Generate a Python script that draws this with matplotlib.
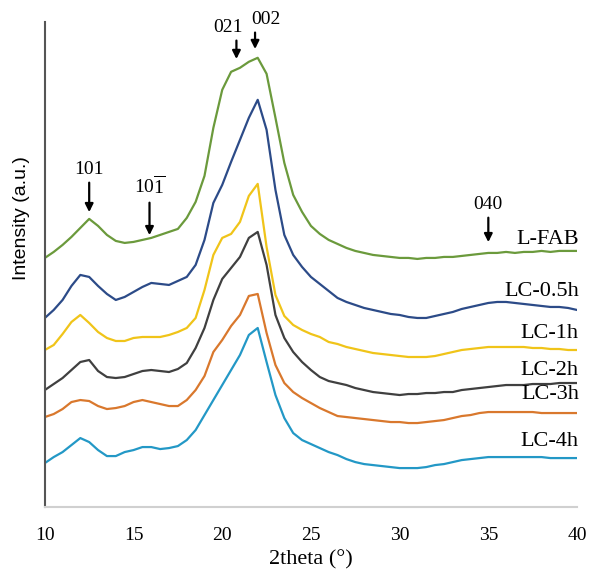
import matplotlib
matplotlib.use("Agg")
import matplotlib.pyplot as plt
import numpy as np

plt.rcParams['mathtext.fontset'] = 'custom'
plt.rcParams['mathtext.rm'] = 'Liberation Serif'

# 2theta grid (0.5 deg steps) and stacked intensities (a.u.)
two_theta = np.arange(10, 40.01, 0.5)

l_fab = [249, 255, 262, 270, 279, 288, 281, 272, 266, 264, 265, 267, 269, 272, 275, 278,
         289, 305, 331, 379, 417, 435, 439, 445, 449, 433, 389, 344, 312, 295, 281, 273,
         267, 263, 259, 256, 254, 252, 251, 250, 249, 249, 248, 249, 249, 250, 250, 251,
         252, 253, 254, 254, 255, 254, 255, 255, 256, 255, 256, 256, 256]
lc_05h = [189, 197, 207, 221, 232, 230, 221, 213, 207, 210, 215, 220, 224, 223, 222, 226,
          230, 242, 267, 304, 322, 345, 367, 389, 407, 377, 317, 272, 252, 240, 230, 223,
          216, 209, 205, 202, 199, 197, 195, 193, 192, 190, 189, 189, 191, 193, 195, 198,
          200, 202, 204, 205, 205, 204, 203, 202, 201, 200, 200, 199, 197]
lc_1h = [157, 162, 173, 185, 192, 184, 175, 169, 166, 166, 169, 170, 170, 170, 172, 175,
         179, 189, 217, 252, 269, 273, 285, 311, 323, 260, 212, 191, 182, 177, 173, 170,
         165, 163, 160, 158, 156, 154, 153, 152, 151, 150, 150, 150, 151, 153, 155, 157,
         158, 159, 160, 160, 160, 160, 160, 159, 159, 158, 158, 157, 157]
lc_2h = [117, 123, 129, 137, 145, 147, 136, 130, 129, 130, 133, 136, 137, 136, 135, 138,
         144, 159, 179, 207, 228, 239, 250, 269, 275, 242, 192, 169, 155, 145, 137, 130,
         126, 124, 122, 119, 117, 115, 114, 113, 112, 113, 113, 114, 114, 115, 115, 117,
         118, 119, 120, 121, 122, 122, 122, 123, 123, 123, 124, 124, 124]
lc_3h = [90, 93, 98, 105, 107, 106, 101, 98, 99, 101, 105, 107, 105, 103, 101, 101,
         107, 117, 131, 155, 167, 181, 192, 211, 213, 174, 142, 124, 115, 109, 104, 99,
         95, 91, 90, 89, 88, 87, 86, 85, 85, 84, 84, 85, 86, 87, 89, 91,
         92, 94, 95, 95, 95, 95, 95, 95, 94, 94, 94, 94, 94]
lc_4h = [44, 50, 55, 62, 69, 65, 57, 51, 51, 55, 57, 60, 60, 58, 59, 61,
         67, 77, 92, 107, 122, 137, 152, 172, 179, 145, 112, 89, 74, 67, 63, 59,
         55, 52, 48, 45, 43, 42, 41, 40, 39, 39, 39, 40, 42, 43, 45, 47,
         48, 49, 50, 50, 50, 50, 50, 50, 50, 49, 49, 49, 49]

series = [l_fab, lc_05h, lc_1h, lc_2h, lc_3h, lc_4h]
names = ["L-FAB", "LC-0.5h", "LC-1h", "LC-2h", "LC-3h", "LC-4h"]
colors = ["#6b9a3c", "#2c4b88", "#f0c419", "#404040", "#d9782d", "#2398c6"]
label_y = [267, 215, 173, 137, 113, 66]

# peak markers: (label, label x, arrow x, arrow top, arrow bottom)
peaks = [("101", 12.5, 12.5, 327, 292),
         (r"$\mathrm{10\overline{1}}$", 15.9, 15.9, 307, 269),
         ("021", 20.3, 20.8, 469, 445),
         ("002", 22.45, 21.85, 477, 455),
         ("040", 35.0, 35.0, 292, 262)]

fig = plt.figure(figsize=(5.9, 5.73), dpi=100)
ax = fig.add_axes([0.076, 0.115, 0.902, 0.847])

for y, c in zip(series, colors):
    ax.plot(two_theta, y, color=c, lw=1.6)

for name, ly in zip(names, label_y):
    ax.text(40.1, ly, name, ha="right", va="center", fontsize=16,
            family="Liberation Serif")

for lab, tx, x, y0, y1 in peaks:
    ax.annotate("", xy=(x, y1), xytext=(x, y0),
                arrowprops=dict(arrowstyle="-|>", color="black", lw=1.6,
                                mutation_scale=12))
    ax.text(tx, y0 + 2, lab, ha="center", va="bottom", fontsize=14,
            family="Liberation Serif")

ax.set_xlim(10, 40)
ax.set_ylim(0, 485)
ax.set_xticks([10, 15, 20, 25, 30, 35, 40])
ax.set_yticks([])
ax.tick_params(axis="x", length=0, pad=14, labelsize=14)
for t in ax.get_xticklabels():
    t.set_family("Liberation Serif")
for s in ["top", "right"]:
    ax.spines[s].set_visible(False)
ax.spines["left"].set_color("#555555")
ax.spines["left"].set_linewidth(1.5)
ax.spines["bottom"].set_color("#d0d0d0")
ax.spines["bottom"].set_linewidth(1.5)

ax.set_xlabel("2theta (°)", fontsize=16, family="Liberation Serif", labelpad=5)
ax.set_ylabel("Intensity (a.u.)", fontsize=14, family="Liberation Sans")
ax.yaxis.set_label_coords(-0.028, 0.596)

fig.savefig("out.png", dpi=100)
